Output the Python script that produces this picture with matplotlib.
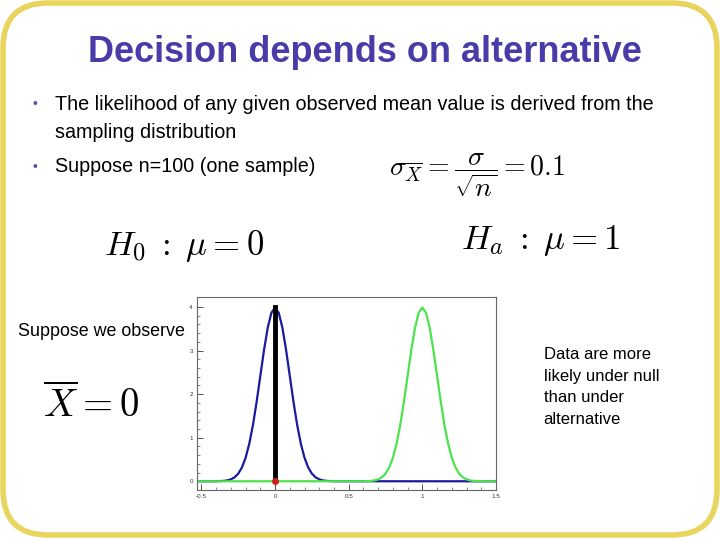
import matplotlib.pyplot as plt
from matplotlib.patches import FancyBboxPatch

plt.rcParams['font.family'] = ['Liberation Sans', 'DejaVu Sans']
plt.rcParams['mathtext.fontset'] = 'cm'

# density values (sd = 0.1)
offsets = [-0.4, -0.35, -0.325, -0.3, -0.275, -0.25, -0.225, -0.2, -0.175, -0.15,
           -0.125, -0.1, -0.075, -0.05, -0.025, 0.0, 0.025, 0.05, 0.075, 0.1,
           0.125, 0.15, 0.175, 0.2, 0.225, 0.25, 0.275, 0.3, 0.325, 0.35, 0.4]
density = [0.001, 0.009, 0.020, 0.044, 0.091, 0.175, 0.317, 0.540, 0.863, 1.295,
           1.826, 2.420, 3.011, 3.521, 3.867, 3.989, 3.867, 3.521, 3.011, 2.420,
           1.826, 1.295, 0.863, 0.540, 0.317, 0.175, 0.091, 0.044, 0.020, 0.009, 0.001]
mu_null = 0.0
mu_alt = 1.0
observed = 0.0
x_lo, x_hi = -0.53, 1.5

fig = plt.figure(figsize=(7.2, 5.4), dpi=100)

# slide frame
frame = fig.add_axes([0, 0, 1, 1])
frame.set_xlim(0, 720)
frame.set_ylim(540, 0)
frame.axis('off')
frame.add_patch(FancyBboxPatch((45, 45), 630, 448, boxstyle='round,pad=42,rounding_size=45',
                               fill=False, edgecolor='#E8D55E', linewidth=4))

fig.text(0.507, 0.903, 'Decision depends on alternative', ha='center', va='center',
         fontsize=26, fontweight='bold', color='#4A3CA8')

for y in [0.807, 0.691]:
    fig.text(0.049, y, u'\u2022', ha='center', va='center', fontsize=10, color='#5A4BB0')
fig.text(0.076, 0.807, 'The likelihood of any given observed mean value is derived from the',
         ha='left', va='center', fontsize=14.2)
fig.text(0.076, 0.755, 'sampling distribution', ha='left', va='center', fontsize=14.2)
fig.text(0.076, 0.691, 'Suppose n=100 (one sample)', ha='left', va='center', fontsize=14.2)

fig.text(0.54, 0.676, r'$\sigma_{\overline{X}} = \dfrac{\sigma}{\sqrt{n}} = 0.1$',
         ha='left', va='center', fontsize=20)
fig.text(0.145, 0.545, r'$H_0\;:\;\mu = 0$', ha='left', va='center', fontsize=25)
fig.text(0.64, 0.555, r'$H_a\;:\;\mu = 1$', ha='left', va='center', fontsize=25)

fig.text(0.025, 0.387, 'Suppose we observe', ha='left', va='center', fontsize=12.9)
fig.text(0.06, 0.25, r'$\overline{X} = 0$', ha='left', va='center', fontsize=28)

fig.text(0.755, 0.283, 'Data are more\nlikely under null\nthan under\nalternative',
         ha='left', va='center', fontsize=12, linespacing=1.55)

# sampling distribution plot
ax = fig.add_axes([197 / 720, 1 - 490 / 540, 299 / 720, 193 / 540])
xb = [x_lo] + [mu_null + o for o in offsets] + [x_hi]
yb = [0] + density + [0]
xg = [x_lo] + [mu_alt + o for o in offsets] + [x_hi]
ax.plot(xb, yb, color='#1A1AA0', lw=1.6)
ax.plot(xg, yb, color='#4CE34C', lw=1.6)
ax.plot([observed, observed], [0, max(density)], color='black', lw=3.5)
ax.plot([observed], [0], 'o', color='#D02020', ms=4, zorder=5)

ax.set_xlim(x_lo, x_hi)
ax.set_ylim(-0.2, 4.23)
ax.set_xticks([-0.5, 0, 0.5, 1, 1.5])
ax.set_xticklabels(['-0.5', '0', '0.5', '1', '1.5'])
ax.set_yticks([0, 1, 2, 3, 4])
ax.set_xticks([i / 10 for i in range(-5, 16)], minor=True)
ax.set_yticks([i / 5 for i in range(0, 21)], minor=True)
ax.tick_params(direction='in', labelsize=4.5, length=4, width=0.6, colors='#333333', pad=3)
ax.tick_params(which='minor', direction='in', length=2, width=0.5, colors='#555555')
for s in ax.spines.values():
    s.set_color('#666666')
    s.set_linewidth(0.8)

fig.savefig('out.png', dpi=100)
